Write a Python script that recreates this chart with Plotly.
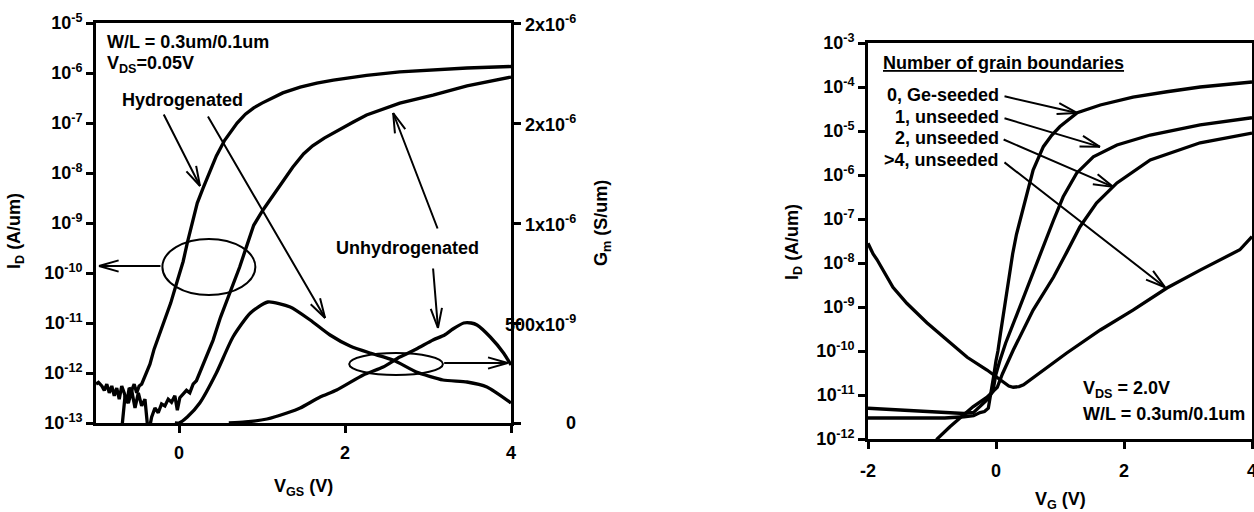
import math
import plotly.graph_objects as go

W, H = 1254, 512

# ---------------- Left panel data (V_GS in V, I_D in A/um, G_m in S/um) ----------------
vgs_hyd = [-1.00, -0.97, -0.93, -0.90, -0.87, -0.84, -0.81, -0.78, -0.75, -0.72, -0.69,
           -0.66, -0.63, -0.60, -0.57, -0.54, -0.51, -0.48, -0.45, -0.42, -0.39, -0.35,
           -0.30, -0.25, -0.18, -0.10, -0.02, 0.05, 0.10, 0.16, 0.22, 0.29, 0.36, 0.45,
           0.55, 0.63, 0.70, 0.80, 0.90, 1.00, 1.25, 1.46, 1.66, 1.86, 2.26, 2.66, 3.06,
           3.47, 4.00]
id_hyd = [6e-13, 6.5e-13, 5.5e-13, 4.5e-13, 6e-13, 4e-13, 5.5e-13, 3.5e-13, 5e-13, 3e-13,
          5.5e-13, 4e-13, 2.5e-13, 5e-13, 4.5e-13, 6e-13, 4e-13, 5.5e-13, 6e-13, 8e-13,
          1e-12, 1.5e-12, 3e-12, 5e-12, 1e-11, 2.5e-11, 7e-11, 1.7e-10, 4e-10, 1e-9, 2.5e-9,
          5e-9, 1e-8, 2.2e-8, 4.5e-8, 7e-8, 1e-7, 1.5e-7, 2e-7, 2.5e-7, 4e-7, 5.2e-7, 6.3e-7,
          7.2e-7, 9e-7, 1.05e-6, 1.15e-6, 1.26e-6, 1.35e-6]

vgs_unh = [-0.70, -0.65, -0.61, -0.57, -0.53, -0.49, -0.45, -0.41, -0.37, -0.33, -0.29,
           -0.25, -0.21, -0.17, -0.13, -0.09, -0.05, -0.02, 0.01, 0.05, 0.09, 0.13, 0.17,
           0.21, 0.25, 0.33, 0.41, 0.50, 0.58, 0.66, 0.73, 0.80, 0.90, 1.01, 1.18, 1.37,
           1.50, 1.61, 1.75, 1.94, 2.10, 2.26, 2.66, 3.06, 3.47, 4.00]
id_unh = [5e-14, 3.5e-13, 2.5e-13, 4.5e-13, 2e-13, 4e-13, 2.2e-13, 3e-13, 6e-14, 1.3e-13,
          2e-13, 1.6e-13, 2.4e-13, 2.2e-13, 3e-13, 2.6e-13, 3.5e-13, 1.8e-13, 3.2e-13,
          3.8e-13, 4.5e-13, 4e-13, 6e-13, 7e-13, 1e-12, 2.2e-12, 4.5e-12, 1.3e-11, 2.9e-11,
          6e-11, 1.3e-10, 2.9e-10, 9e-10, 1.8e-9, 4.6e-9, 1.3e-8, 2.4e-8, 3.5e-8, 5e-8,
          7.6e-8, 1.05e-7, 1.45e-7, 2.5e-7, 3.6e-7, 5.5e-7, 8.3e-7]

vgs_gm_hyd = [-0.05, 0.00, 0.10, 0.25, 0.45, 0.65, 0.86, 1.07, 1.34, 1.58, 1.82, 2.06,
              2.30, 2.58, 2.86, 3.18, 3.47, 3.71, 4.00]
gm_hyd = [0.0, 0.0, 0.03e-6, 0.10e-6, 0.25e-6, 0.43e-6, 0.55e-6, 0.605e-6, 0.58e-6,
          0.515e-6, 0.44e-6, 0.385e-6, 0.35e-6, 0.315e-6, 0.255e-6, 0.215e-6, 0.205e-6,
          0.18e-6, 0.10e-6]

vgs_gm_unh = [0.60, 0.80, 1.06, 1.30, 1.46, 1.70, 1.90, 2.22, 2.46, 2.66, 2.86, 3.06, 3.20,
              3.30, 3.43, 3.52, 3.59, 3.75, 3.91, 4.00]
gm_unh = [0.0, 0.005e-6, 0.02e-6, 0.05e-6, 0.075e-6, 0.13e-6, 0.165e-6, 0.24e-6, 0.28e-6,
          0.33e-6, 0.37e-6, 0.415e-6, 0.44e-6, 0.47e-6, 0.50e-6, 0.50e-6, 0.49e-6, 0.43e-6,
          0.35e-6, 0.29e-6]

# ---------------- Right panel data (V_G in V, I_D in A/um) ----------------
vg_ge = [-2.0, -1.6, -1.2, -0.8, -0.5, -0.35, -0.25, -0.18, -0.12, -0.08, -0.04, 0.0, 0.03,
         0.07, 0.11, 0.15, 0.19, 0.26, 0.32, 0.45, 0.58, 0.74, 0.87, 1.0, 1.27, 1.63, 2.14,
         2.67, 3.19, 4.0]
id_ge = [3.0e-12, 3.0e-12, 2.9e-12, 3.0e-12, 3.2e-12, 3.4e-12, 4.0e-12, 4.2e-12, 5e-12,
         1.0e-11, 2.5e-11, 6e-11, 1.0e-10, 2.5e-10, 6e-10, 1.6e-9, 4e-9, 1.6e-8, 4.5e-8,
         2.3e-7, 1.3e-6, 4.4e-6, 8e-6, 1.26e-5, 2.6e-5, 3.9e-5, 5.9e-5, 7.8e-5, 1.0e-4,
         1.3e-4]

vg_gb1 = [-2.0, -1.6, -1.2, -0.8, -0.5, -0.35, -0.25, -0.15, -0.05, 0.0, 0.06, 0.15, 0.33,
          0.53, 0.74, 0.90, 1.05, 1.26, 1.52, 1.89, 2.41, 3.19, 4.0]
id_gb1 = [5.0e-12, 4.6e-12, 4.3e-12, 4.0e-12, 3.8e-12, 4.0e-12, 5.5e-12, 7.5e-12, 1.2e-11,
          3e-11, 6e-11, 1.5e-10, 7e-10, 4e-9, 2.3e-8, 9.5e-8, 3.2e-7, 1.1e-6, 2.6e-6, 4.8e-6,
          8.1e-6, 1.38e-5, 2.0e-5]

vg_gb2 = [-0.95, -0.92, -0.72, -0.52, -0.36, -0.14, 0.02, 0.10, 0.27, 0.58, 0.90, 1.10, 1.31,
          1.57, 1.89, 2.41, 3.19, 4.0]
id_gb2 = [8e-13, 1e-12, 1.9e-12, 3.5e-12, 5.4e-12, 8.9e-12, 1.5e-11, 3e-11, 1.05e-10, 8.5e-10,
          4.8e-9, 1.7e-8, 6.6e-8, 2.3e-7, 6.6e-7, 2.2e-6, 5.4e-6, 9.0e-6]

vg_gb4 = [-2.0, -1.92, -1.86, -1.77, -1.61, -1.39, -1.08, -0.77, -0.45, -0.14, 0.11, 0.20,
          0.27, 0.36, 0.43, 0.69, 1.10, 1.63, 2.14, 2.67, 3.19, 3.81, 4.0]
id_gb4 = [2.8e-8, 1.6e-8, 1.2e-8, 7e-9, 2.8e-9, 1.2e-9, 4.4e-10, 1.8e-10, 7.2e-11, 3.7e-11,
          2e-11, 1.6e-11, 1.5e-11, 1.55e-11, 1.7e-11, 3.2e-11, 8.9e-11, 3e-10, 8.5e-10,
          2.7e-9, 6.9e-9, 2e-8, 4e-8]

# ---------------- Tick definitions ----------------
left_x_ticks = [0, 2, 4]
right_x_ticks = [-2, 0, 2, 4]
left_exps = list(range(-13, -4))
right_exps = list(range(-12, -2))
gm_ticks = [0, 5e-7, 1e-6, 1.5e-6, 2e-6]
gm_tick_text = ["0", "500x10<sup>-9</sup>", "1x10<sup>-6</sup>", "2x10<sup>-6</sup>",
                "2x10<sup>-6</sup>"]

FONT = "Liberation Sans, Arial, Helvetica, sans-serif"
FS = 18
LINE = dict(color="black", width=3.3)


def px(x):
    return x / W


def py(y):
    return 1 - y / H


fig = go.Figure()
fig.add_trace(go.Scatter(x=vgs_hyd, y=id_hyd, xaxis="x", yaxis="y", mode="lines", line=LINE))
fig.add_trace(go.Scatter(x=vgs_unh, y=id_unh, xaxis="x", yaxis="y", mode="lines", line=LINE))
fig.add_trace(go.Scatter(x=vgs_gm_hyd, y=gm_hyd, xaxis="x", yaxis="y2", mode="lines",
                         line=dict(LINE, shape="spline", smoothing=0.6)))
fig.add_trace(go.Scatter(x=vgs_gm_unh, y=gm_unh, xaxis="x", yaxis="y2", mode="lines",
                         line=dict(LINE, shape="spline", smoothing=0.6)))
for xv, yv in [(vg_ge, id_ge), (vg_gb1, id_gb1), (vg_gb2, id_gb2), (vg_gb4, id_gb4)]:
    fig.add_trace(go.Scatter(x=xv, y=yv, xaxis="x2", yaxis="y3", mode="lines", line=LINE))

axis_common = dict(showline=True, linewidth=3, linecolor="black", ticks="outside",
                   ticklen=7, tickwidth=2.5, tickcolor="black", showgrid=False,
                   zeroline=False, automargin=False, ticklabeloverflow="allow",
                   tickfont=dict(family=FONT, size=FS, color="black", weight="bold"))

fig.update_layout(
    width=W, height=H, margin=dict(l=0, r=0, t=0, b=0),
    paper_bgcolor="white", plot_bgcolor="white", showlegend=False,
    font=dict(family=FONT, size=FS, color="black", weight="bold"),
    xaxis=dict(axis_common, domain=[px(96), px(511)], range=[-1, 4], anchor="y",
               tickvals=left_x_ticks, ticktext=[str(v) for v in left_x_ticks], mirror=True,
               ticklabelstandoff=4),
    yaxis=dict(axis_common, domain=[py(423), py(23)], type="log", range=[-13, -5],
               anchor="x", tickvals=[10.0 ** e for e in left_exps],
               ticktext=["10<sup>%d</sup>" % e for e in left_exps]),
    yaxis2=dict(axis_common, overlaying="y", side="right", anchor="x", range=[0, 2e-6],
                tickvals=gm_ticks, showticklabels=False),
    xaxis2=dict(axis_common, domain=[px(868), px(1252)], range=[-2, 4], anchor="y3",
                tickvals=right_x_ticks, ticktext=[str(v) for v in right_x_ticks],
                mirror=True, ticklabelstandoff=6),
    yaxis3=dict(axis_common, domain=[py(439), py(43)], type="log", range=[-12, -3],
                anchor="x2", mirror=True, tickvals=[10.0 ** e for e in right_exps],
                ticktext=["10<sup>%d</sup>" % e for e in right_exps]),
)

ann = []


def text(x, y, s, xanchor="left", angle=0):
    ann.append(dict(x=x, y=y, xref="paper", yref="paper", text=s, showarrow=False,
                    xanchor=xanchor, yanchor="middle", textangle=angle,
                    font=dict(family=FONT, size=FS, color="black", weight="bold")))


# axis titles
text(px(15), py(231), "I<sub>D</sub> (A/um)", "center", -90)
text(px(303), py(487), "V<sub>GS</sub> (V)", "center")
text(px(602), py(223), "G<sub>m</sub> (S/um)", "center", -90)
text(px(793), py(242), "I<sub>D</sub> (A/um)", "center", -90)
text(px(1060), py(500), "V<sub>G</sub> (V)", "center")

# G_m tick labels, right-aligned beside the right axis
for v, t in zip(gm_ticks, gm_tick_text):
    ann.append(dict(x=px(578), y=v, xref="paper", yref="y2", text=t, showarrow=False,
                    xanchor="right", yanchor="middle",
                    font=dict(family=FONT, size=FS, color="black", weight="bold")))

# panel texts
text(px(105), py(42), "W/L = 0.3um/0.1um")
text(px(105), py(64), "V<sub>DS</sub>=0.05V")
text(px(182), py(100), "Hydrogenated", "center")
text(px(408), py(248), "Unhydrogenated", "center")
text(px(881), py(63), "<u>Number of grain boundaries</u>")
text(px(1001), py(95), "0, Ge-seeded", "right")
text(px(1001), py(117), "1, unseeded", "right")
text(px(1001), py(138), "2, unseeded", "right")
text(px(1001), py(160), ">4, unseeded", "right")
text(px(1081), py(389), "V<sub>DS</sub> = 2.0V")
text(px(1081), py(414), "W/L = 0.3um/0.1um")

# arrows: tip in data coords (log10 on log axes), tail as pixel offset from the tip
arrows = [
    ("x", "y", 0.253, -8.26, -37, -73),
    ("x", "y", 1.76, -10.9, -118, -203),
    ("x", "y", 2.58, -6.8, 45, 117),
    ("x", "y", 3.12, -11.1, -5, -61),
    ("x", "y", -0.964, -9.86, 63, 0),
    ("x", "y2", 3.96, 0.30e-6, -65, 0),
    ("x2", "y3", 1.266, -4.59, -74, -17),
    ("x2", "y3", 1.625, -5.36, -97, -29),
    ("x2", "y3", 1.83, -6.27, -111, -48),
    ("x2", "y3", 2.64, -8.55, -162, -126),
]
BARB = 22
HALF = math.radians(16)
for xr, yr, x, y, dx, dy in arrows:
    segs = [(dx, dy)]
    L = math.hypot(dx, dy)
    ux, uy = dx / L, dy / L
    for s in (HALF, -HALF):
        bx = ux * math.cos(s) - uy * math.sin(s)
        by = ux * math.sin(s) + uy * math.cos(s)
        segs.append((bx * BARB, by * BARB))
    for sx, sy in segs:
        ann.append(dict(x=x, y=y, xref=xr, yref=yr, ax=sx, ay=sy, text="",
                        showarrow=True, arrowhead=0, arrowwidth=2, arrowcolor="black",
                        standoff=0, startstandoff=0))

fig.update_layout(annotations=ann)

# ellipses (left one placed in the log axis' domain fraction: decades above 1e-13 / 8)
fig.add_shape(type="circle", xref="x", yref="y domain", x0=-0.2, x1=0.92,
              y0=(-10.44 + 13) / 8, y1=(-9.32 + 13) / 8,
              line=dict(color="black", width=2))
fig.add_shape(type="circle", xref="x", yref="y2", x0=2.05, x1=3.18, y0=0.24e-6, y1=0.35e-6,
              line=dict(color="black", width=2))

fig.write_html("out.html", config={"displayModeBar": False},
               post_script="document.body.style.margin='0';")
